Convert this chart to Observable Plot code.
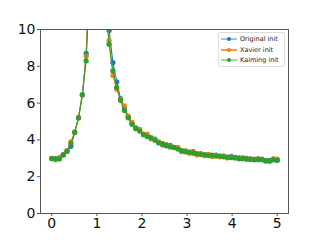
<!DOCTYPE html>
<html><head><meta charset="utf-8">
<script src="https://cdn.jsdelivr.net/npm/d3@7"></script>
<script src="https://cdn.jsdelivr.net/npm/@observablehq/plot@0.6"></script>
<style>
body{margin:0;background:#fff}
#wrap{position:relative;width:320px;height:240px;font-family:"DejaVu Sans",sans-serif}
#legend{position:absolute;left:218px;top:32px;width:65px;height:33px;border:1px solid #ddd;border-radius:2px;background:rgba(255,255,255,0.85);font-size:6.5px;color:#222}
.row{position:absolute;left:0;height:10px;display:flex;align-items:center}
.row svg{margin-left:2px;margin-right:3px}
</style>
</head><body><div id="wrap"></div>
<script>
const xs = [0.000,0.085,0.169,0.254,0.339,0.424,0.508,0.593,0.678,0.763,0.847,0.932,1.017,1.102,1.186,1.271,1.356,1.441,1.525,1.610,1.695,1.780,1.864,1.949,2.034,2.119,2.203,2.288,2.373,2.458,2.542,2.627,2.712,2.797,2.881,2.966,3.051,3.136,3.220,3.305,3.390,3.475,3.559,3.644,3.729,3.814,3.898,3.983,4.068,4.153,4.237,4.322,4.407,4.492,4.576,4.661,4.746,4.831,4.915,5.000];
const original = [3.00,2.97,2.98,3.20,3.40,3.65,4.40,5.20,6.45,8.70,13.5,22,30,20,12.5,9.95,8.20,7.15,6.25,5.75,5.25,4.90,4.65,4.55,4.30,4.20,4.08,4.05,3.85,3.80,3.68,3.70,3.60,3.55,3.40,3.38,3.33,3.36,3.22,3.25,3.15,3.20,3.12,3.18,3.10,3.12,3.05,3.10,3.02,3.03,2.98,3.00,2.94,2.96,2.92,2.96,2.86,2.88,2.92,2.90];
const xavier = [3.00,2.92,3.05,3.18,3.42,3.90,4.42,5.22,6.45,8.55,13.8,23,31,21,12.2,9.40,7.50,6.75,6.20,5.85,5.30,4.95,4.60,4.58,4.32,4.32,4.05,4.02,3.90,3.72,3.75,3.66,3.58,3.60,3.35,3.42,3.28,3.32,3.18,3.25,3.15,3.22,3.10,3.15,3.08,3.12,3.02,3.06,3.05,2.98,3.04,2.95,2.99,2.92,2.98,2.93,2.88,2.84,2.98,2.96];
const kaiming = [2.98,2.97,2.97,3.18,3.38,3.80,4.42,5.20,6.45,8.30,13.0,22,30,20,11.7,9.20,7.75,6.85,6.15,5.60,5.20,4.85,4.62,4.48,4.28,4.18,4.12,3.98,3.84,3.76,3.72,3.62,3.60,3.50,3.42,3.35,3.34,3.28,3.26,3.20,3.20,3.15,3.17,3.12,3.12,3.08,3.06,3.04,3.04,2.98,3.00,2.96,2.96,2.92,2.95,2.92,2.87,2.86,2.92,2.90];
const seriesNames = ["Original init","Xavier init","Kaiming init"];
const seriesColors = ["#1f77b4","#ff7f0e","#2ca02c"];
const xTicks = [0,1,2,3,4,5];
const yTicks = [0,2,4,6,8,10];

const allSeries = [original, xavier, kaiming];
const marks = [];
allSeries.forEach((vals, k) => {
  const data = xs.map((x, i) => ({x, y: vals[i]}));
  marks.push(Plot.line(data, {x: "x", y: "y", stroke: seriesColors[k], strokeWidth: 1.1, clip: true}));
  marks.push(Plot.dot(data, {x: "x", y: "y", fill: seriesColors[k], r: 2.6, clip: true}));
});

const chart = Plot.plot({
  width: 320, height: 240,
  marginLeft: 40, marginRight: 32, marginTop: 29, marginBottom: 27,
  style: {fontFamily: "DejaVu Sans", background: "#fff", overflow: "visible"},
  x: {domain: [-0.25, 5.25]},
  y: {domain: [0, 10]},
  marks: [
    ...marks,
    Plot.frame({stroke: "#555", strokeWidth: 1}),
    Plot.axisX({ticks: xTicks, tickSize: 3, tickPadding: 2, fontSize: 14, label: null, tickFormat: d => String(d), stroke: "#555", fill: "#111"}),
    Plot.axisY({ticks: yTicks, tickSize: 3, tickPadding: 2, fontSize: 14, label: null, tickFormat: d => String(d), stroke: "#555", fill: "#111"})
  ]
});
const wrap = document.getElementById("wrap");
wrap.appendChild(chart);

const legend = document.createElement("div");
legend.id = "legend";
seriesNames.forEach((name, k) => {
  const row = document.createElement("div");
  row.className = "row";
  row.style.top = (1 + k * 10.7) + "px";
  const op = k === 1 ? 1 : 0.55;
  row.innerHTML = `<svg width="16" height="6"><line x1="0" y1="3" x2="16" y2="3" stroke="${seriesColors[k]}" stroke-width="1.6" stroke-opacity="${op}"/><circle cx="8" cy="3" r="2" fill="${seriesColors[k]}"/></svg><span>${name}</span>`;
  legend.appendChild(row);
});
wrap.appendChild(legend);
</script>
</body></html>
